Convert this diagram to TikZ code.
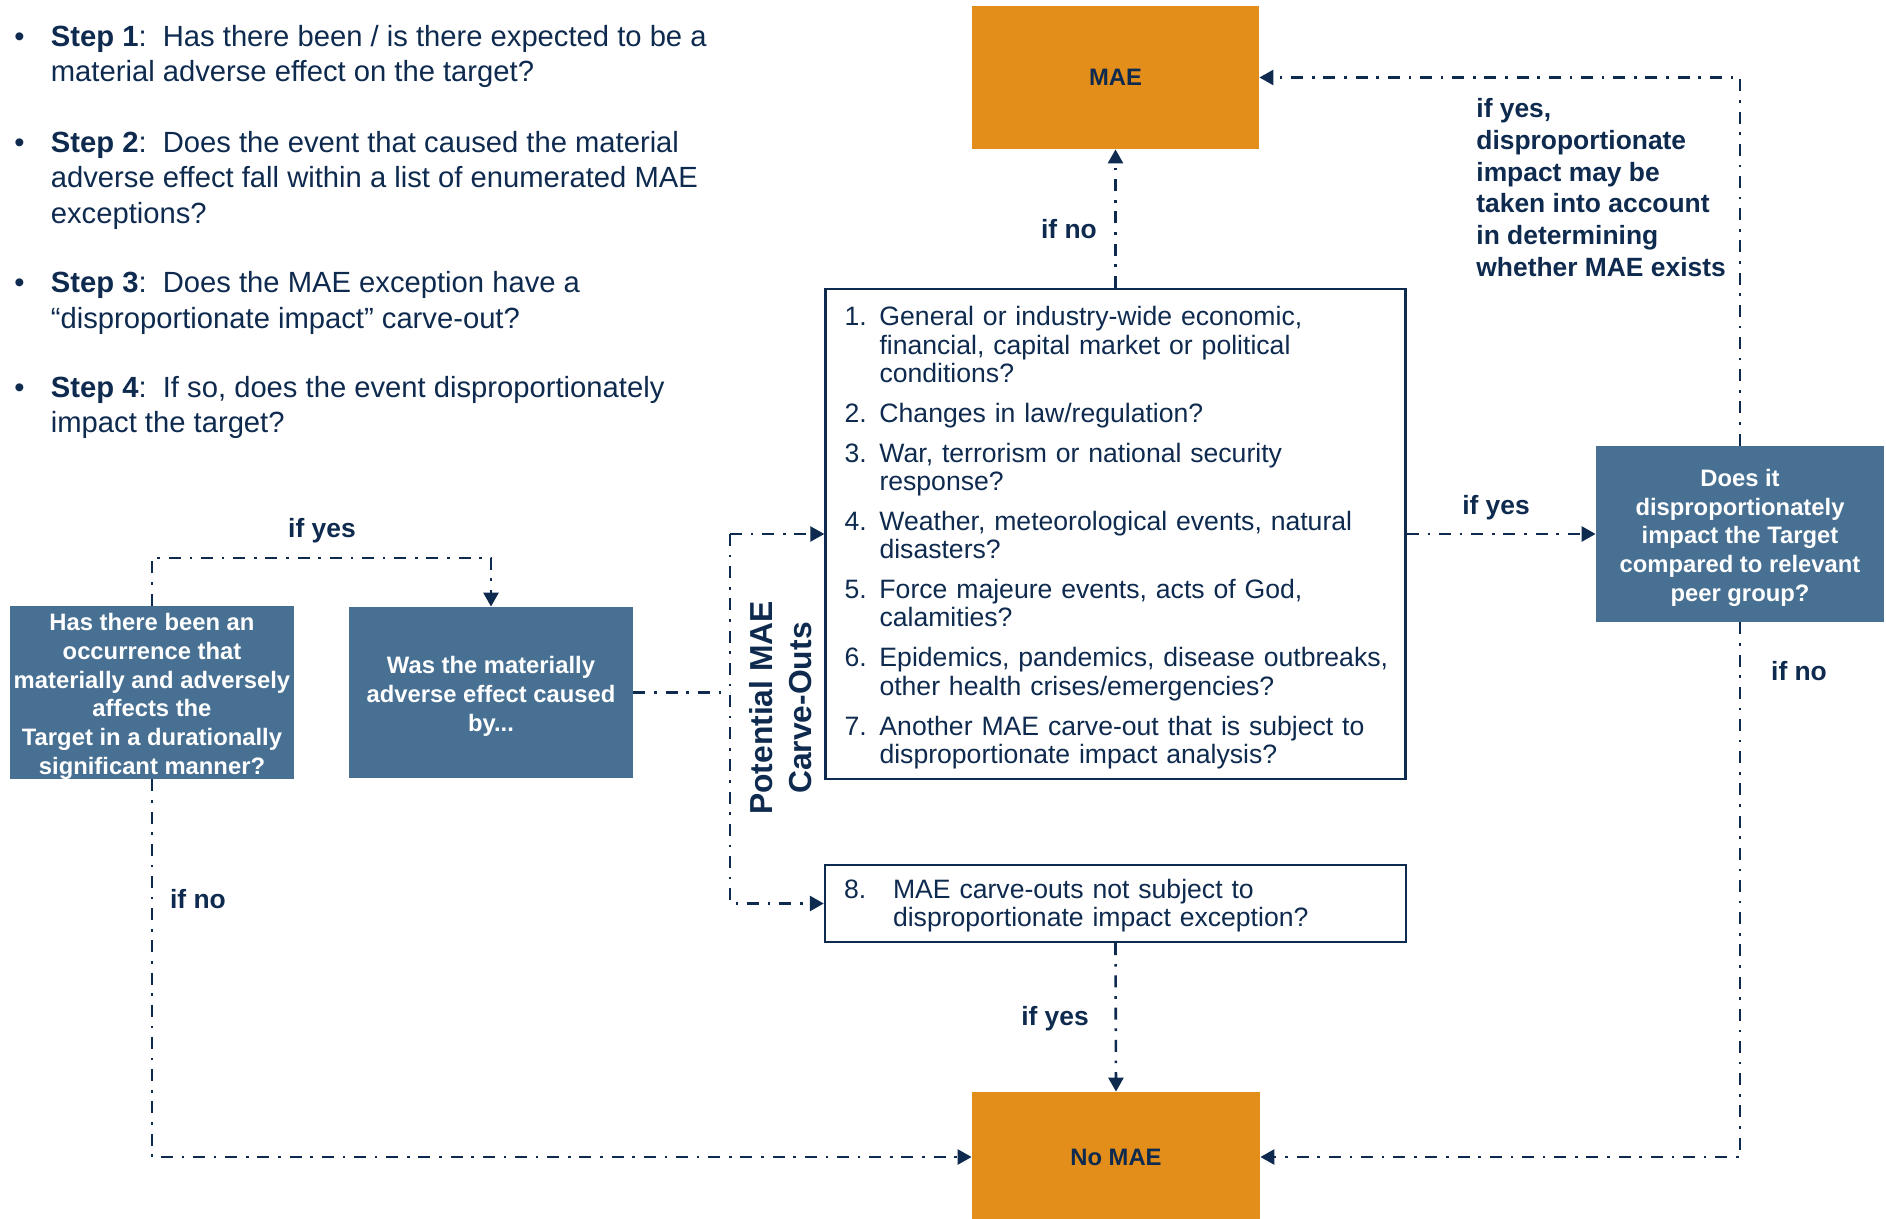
\documentclass[tikz,border=0pt]{standalone}
\usepackage{fontspec}
\setmainfont{Liberation Sans}
\usepackage{xcolor}
\usepackage{tikz}
\usetikzlibrary{arrows.meta,positioning}

\definecolor{maeorange}{RGB}{227,142,27}
\definecolor{qblue}{RGB}{71,112,147}
\definecolor{navy}{RGB}{14,42,78}

\newcommand{\stepfont}{\fontsize{14.6}{17.75}\selectfont}
\newcommand{\listfont}{\fontsize{13.3}{14.1}\selectfont}
\newcommand{\boxfont}{\fontsize{11.9}{14.4}\selectfont\bfseries}
\newcommand{\labfont}{\fontsize{13.2}{15.9}\selectfont\bfseries}
\newcommand{\boxlines}[1]{\raisebox{-2.1pt}[\height][\depth]{\begin{tabular}{@{}c@{}}#1\end{tabular}}}

\begin{document}
\begin{tikzpicture}[x=0.5pt,y=-0.5pt,>={Triangle[length=7pt,width=7.5pt]},
  navy,text=navy,
  flow/.style={draw=navy,line width=1.3pt,dash pattern=on 6pt off 4.4pt on 1.3pt off 4.4pt},
  outcome/.style={rectangle,fill=maeorange,minimum width=143.5pt,font=\boxfont,inner sep=0pt},
  question/.style={rectangle,fill=qblue,text=white,font=\boxfont,minimum width=142pt,minimum height=85.5pt,inner sep=0pt},
  carveout/.style={rectangle,draw=navy,line width=1.2pt,fill=white,align=left,inner xsep=9.5pt,inner ysep=2pt,font=\listfont},
  lab/.style={font=\labfont,inner sep=0pt},
  steptext/.style={anchor=base west,inner sep=0pt,font=\stepfont}]

    \useasboundingbox (0,0) rectangle (1886,1219);

    % The steps
    \node [steptext] at (14,46.5) (step1) {\begin{tabular}[t]{@{}p{18.25pt}@{}l@{}}
        \textbullet & \textbf{Step 1}:\ \ Has there been / is there expected to be a\\
        & material adverse effect on the target?
    \end{tabular}};
    \node [steptext] at (14,152.5) (step2) {\begin{tabular}[t]{@{}p{18.25pt}@{}l@{}}
        \textbullet & \textbf{Step 2}:\ \ Does the event that caused the material\\
        & adverse effect fall within a list of enumerated MAE\\
        & exceptions?
    \end{tabular}};
    \node [steptext] at (14,293) (step3) {\begin{tabular}[t]{@{}p{18.25pt}@{}l@{}}
        \textbullet & \textbf{Step 3}:\ \ Does the MAE exception have a\\
        & “disproportionate impact” carve-out?
    \end{tabular}};
    \node [steptext] at (14,397.5) (step4) {\begin{tabular}[t]{@{}p{18.25pt}@{}l@{}}
        \textbullet & \textbf{Step 4}:\ \ If so, does the event disproportionately\\
        & impact the target?
    \end{tabular}};

    % The graph
    \node [outcome,minimum height=71.5pt] at (1115.5,77.5) (mae) {MAE};
    \node [outcome,minimum width=144pt,minimum height=65pt] at (1116,1157) (nomae) {No MAE};

    \node [question] at (152,692.5) (occur) {\boxlines{Has there been an\\occurrence that\\materially and adversely\\affects the\\Target in a durationally\\significant manner?}};
    \node [question] at (491,692.5) (cause) {\boxlines{Was the materially\\adverse effect caused\\by...}};
    \node [question,minimum width=144pt,minimum height=88pt] at (1740,534) (impact) {\boxlines{Does it\\disproportionately\\impact the Target\\compared to relevant\\peer group?}};

    \node [carveout,minimum width=290pt,minimum height=245pt,text width=271pt] at (1115.5,534) (list) {\noindent\begin{tabular}{@{}p{17.5pt}@{}l@{}}
        \rule{0pt}{14.9pt}1. & General or industry-wide economic,\\
           & financial, capital market or political\\
           & conditions?\\[5.9pt]
        2. & Changes in law/regulation?\\[5.9pt]
        3. & War, terrorism or national security\\
           & response?\\[5.9pt]
        4. & Weather, meteorological events, natural\\
           & disasters?\\[5.9pt]
        5. & Force majeure events, acts of God,\\
           & calamities?\\[5.9pt]
        6. & Epidemics, pandemics, disease outbreaks,\\
           & other health crises/emergencies?\\[5.9pt]
        7. & Another MAE carve-out that is subject to\\
           & disproportionate impact analysis?
    \end{tabular}};
    \node [carveout,minimum width=290.5pt,minimum height=38.5pt,text width=271.5pt] at (1115.5,903.5) (item8) {\noindent\begin{tabular}{@{}p{24.5pt}@{}l@{}}
        \rule{0pt}{13.5pt}8. & MAE carve-outs not subject to\\
           & disproportionate impact exception?
    \end{tabular}};

    \node [font=\fontsize{15.9}{19.5}\selectfont\bfseries,align=center,rotate=90,inner sep=0pt] at (781,708) (carvelabel) {Potential MAE\\Carve-Outs};

    % Edge labels
    \node [lab] at (322,530.5) (yes1) {if yes};
    \node [lab] at (198,899) (no1) {if no};
    \node [lab] at (1069,229.5) (no2) {if no};
    \node [lab] at (1496,507.5) (yes2) {if yes};
    \node [lab] at (1799,671) (no3) {if no};
    \node [lab] at (1055,1018.5) (yes3) {if yes};
    \node [lab,anchor=north west,align=left] at (1476,98) (yes4) {if yes,\\disproportionate\\impact may be\\taken into account\\in determining\\whether MAE exists};

    \coordinate (yesrail) at (0,558);
    \coordinate (brtop) at (730,534);

    % Graph edges
    \draw [flow,->] (list.north) -- (mae.south);
    \draw [flow,->] (list.east) -- (impact.west);
    \draw [flow,->] (item8.south) -- (nomae.north);
    \draw [flow,->] (brtop) -- (list.west);
    \draw [flow,->] (brtop) |- (item8.west);
    \draw [flow] (cause.east) -- (cause.east -| brtop);

    \draw [flow,->] (occur.north) -- (occur.north |- yesrail) -| (cause.north);
    \draw [flow,->] (occur.south) |- (nomae.west);
    \draw [flow,->] (impact.north) |- (mae.east);
    \draw [flow,->] (impact.south) |- (nomae.east);

\end{tikzpicture}
\end{document}
